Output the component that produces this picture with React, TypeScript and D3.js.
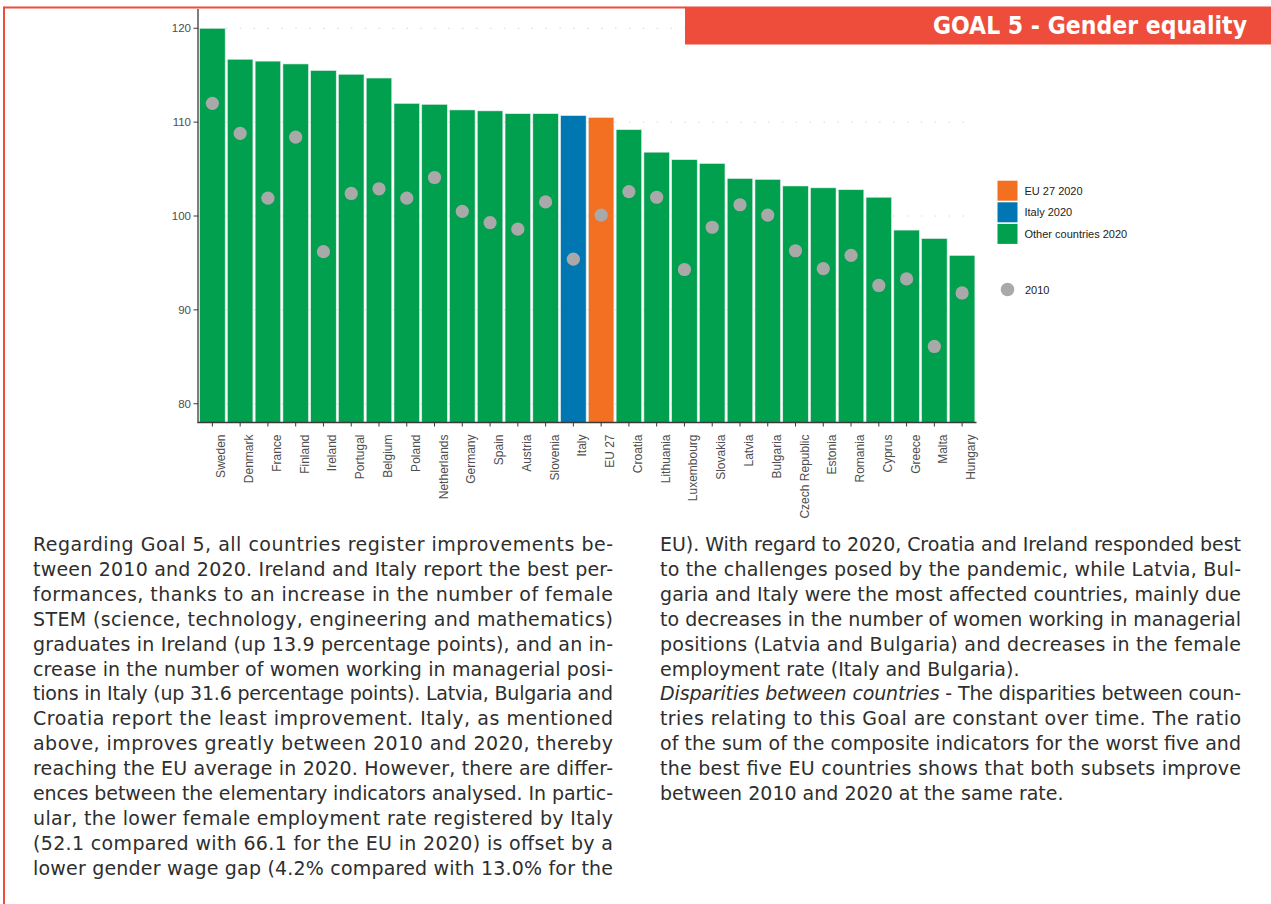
import React from "react";
import * as d3 from "d3";

// Composite index of Goal 5 (Gender equality), 2020 bars and 2010 dots
const countries = [
  "Sweden", "Denmark", "France", "Finland", "Ireland", "Portugal", "Belgium",
  "Poland", "Netherlands", "Germany", "Spain", "Austria", "Slovenia", "Italy",
  "EU 27", "Croatia", "Lithuania", "Luxembourg", "Slovakia", "Latvia",
  "Bulgaria", "Czech Republic", "Estonia", "Romania", "Cyprus", "Greece",
  "Malta", "Hungary",
];

const values2020 = [
  120.0, 116.7, 116.5, 116.2, 115.5, 115.1, 114.7, 112.0, 111.9, 111.3, 111.2,
  110.9, 110.9, 110.7, 110.5, 109.2, 106.8, 106.0, 105.6, 104.0, 103.9, 103.2,
  103.0, 102.8, 102.0, 98.5, 97.6, 95.8,
];

const values2010 = [
  112.0, 108.8, 101.9, 108.4, 96.2, 102.4, 102.9, 101.9, 104.1, 100.5, 99.3,
  98.6, 101.5, 95.4, 100.1, 102.6, 102.0, 94.3, 98.8, 101.2, 100.1, 96.3, 94.4,
  95.8, 92.6, 93.3, 86.1, 91.8,
];

const yTicks = [80, 90, 100, 110, 120];

const legendLabels = ["EU 27 2020", "Italy 2020", "Other countries 2020"];
const legendDotLabel = "2010";
const headerTitle = "GOAL 5 - Gender equality";

const leftLines = [
  "Regarding Goal 5, all countries register improvements be-",
  "tween 2010 and 2020. Ireland and Italy report the best per-",
  "formances, thanks to an increase in the number of female",
  "STEM (science, technology, engineering and mathematics)",
  "graduates in Ireland (up 13.9 percentage points), and an in-",
  "crease in the number of women working in managerial posi-",
  "tions in Italy (up 31.6 percentage points). Latvia, Bulgaria and",
  "Croatia report the least improvement. Italy, as mentioned",
  "above, improves greatly between 2010 and 2020, thereby",
  "reaching the EU average in 2020. However, there are differ-",
  "ences between the elementary indicators analysed. In partic-",
  "ular, the lower female employment rate registered by Italy",
  "(52.1 compared with 66.1 for the EU in 2020) is offset by a",
  "lower gender wage gap (4.2% compared with 13.0% for the",
];

// [italic lead-in, regular text, justified]
const rightLines: [string, string, boolean][] = [
  ["", "EU). With regard to 2020, Croatia and Ireland responded best", true],
  ["", "to the challenges posed by the pandemic, while Latvia, Bul-", true],
  ["", "garia and Italy were the most affected countries, mainly due", true],
  ["", "to decreases in the number of women working in managerial", true],
  ["", "positions (Latvia and Bulgaria) and decreases in the female", true],
  ["", "employment rate (Italy and Bulgaria).", false],
  ["Disparities between countries", " - The disparities between coun-", true],
  ["", "tries relating to this Goal are constant over time. The ratio", true],
  ["", "of the sum of the composite indicators for the worst five and", true],
  ["", "the best five EU countries shows that both subsets improve", true],
  ["", "between 2010 and 2020 at the same rate.", false],
];

const GREEN = "#00A04E";
const BLUE = "#0077B2";
const ORANGE = "#F37022";
const DOT = "#A9A9A9";
const RED = "#EE4D3B";
const AXIS_TEXT = "#4d4d4d";
const BODY = "#2e2e2e";

const barColor = (name: string) =>
  name === "Italy" ? BLUE : name === "EU 27" ? ORANGE : GREEN;

export default function App() {
  const x = d3
    .scaleBand<string>()
    .domain(countries)
    .range([198.5, 976])
    .paddingInner(0.08)
    .paddingOuter(0.04);
  const y = d3.scaleLinear().domain([78, 122]).range([422.5, 9.5]);
  const y0 = y(78);
  const bw = x.bandwidth();

  const legendColors = [ORANGE, BLUE, GREEN];
  const bodyFont = "'DejaVu Sans', sans-serif";
  const lineH = 24.9;
  const firstBase = 551;

  return (
    <svg
      width={1271}
      height={904}
      style={{ position: "absolute", left: 0, top: 0, background: "#fff" }}
      fontFamily="'Liberation Sans', Arial, sans-serif"
    >
      {/* grid */}
      {yTicks.map((t) => (
        <line
          key={`g${t}`}
          x1={198}
          x2={976}
          y1={y(t)}
          y2={y(t)}
          stroke="#d6d6d6"
          strokeWidth={1}
          strokeDasharray="1.5 12.4"
        />
      ))}

      {/* 2020 bars */}
      {countries.map((c, i) => (
        <rect
          key={`b${c}`}
          x={x(c)}
          y={y(values2020[i])}
          width={bw}
          height={y0 - y(values2020[i])}
          fill={barColor(c)}
          stroke="#e3eeea"
          strokeWidth={0.6}
        />
      ))}

      {/* 2010 dots */}
      {countries.map((c, i) => (
        <circle
          key={`d${c}`}
          cx={(x(c) as number) + bw / 2}
          cy={y(values2010[i])}
          r={6.6}
          fill={DOT}
        />
      ))}

      {/* axes */}
      <line x1={198} x2={198} y1={9} y2={y0} stroke="#3a3a3a" strokeWidth={1.3} />
      <line x1={197.4} x2={976.5} y1={y0} y2={y0} stroke="#3a3a3a" strokeWidth={1.3} />
      {yTicks.map((t) => (
        <g key={`yt${t}`}>
          <line x1={193.5} x2={198} y1={y(t)} y2={y(t)} stroke="#3a3a3a" strokeWidth={1} />
          <text x={191} y={y(t) + 4} textAnchor="end" fontSize={11.5} fill={AXIS_TEXT}>
            {t}
          </text>
        </g>
      ))}
      {countries.map((c) => {
        const cx = (x(c) as number) + bw / 2;
        return (
          <g key={`xt${c}`}>
            <line x1={cx} x2={cx} y1={y0} y2={y0 + 4} stroke="#3a3a3a" strokeWidth={1} />
            <text
              transform={`translate(${cx + 13},${y0 + 12}) rotate(-90)`}
              textAnchor="end"
              fontSize={12}
              fill={AXIS_TEXT}
            >
              {c}
            </text>
          </g>
        );
      })}

      {/* legend */}
      {legendLabels.map((l, i) => (
        <g key={`l${l}`} transform={`translate(997.5,${180.7 + i * 21.6})`}>
          <rect width={20} height={20} fill={legendColors[i]} />
          <text x={27} y={14} fontSize={11} fill="#222">
            {l}
          </text>
        </g>
      ))}
      <circle cx={1007.5} cy={289.5} r={6.8} fill={DOT} />
      <text x={1025} y={293.5} fontSize={11} fill="#222">
        {legendDotLabel}
      </text>

      {/* page frame and header band */}
      <line x1={4} y1={7.5} x2={686} y2={7.5} stroke={RED} strokeWidth={2} />
      <line x1={4} y1={6.5} x2={4} y2={904} stroke={RED} strokeWidth={2} />
      <rect x={685} y={6.5} width={586} height={38} fill={RED} />
      <text
        x={1247}
        y={33.5}
        textAnchor="end"
        fill="#fff"
        fontFamily="'DejaVu Sans Condensed', 'DejaVu Sans', sans-serif"
        fontWeight="bold"
        fontSize={24.5}
      >
        {headerTitle}
      </text>

      {/* body text */}
      <g fontFamily={bodyFont} fontSize={19} fill={BODY}>
        {leftLines.map((l, i) => (
          <text key={`tl${i}`} x={33} y={firstBase + i * lineH} textLength={580} lengthAdjust="spacing">
            {l}
          </text>
        ))}
        {rightLines.map(([it, rest, just], i) => (
          <text
            key={`tr${i}`}
            x={660}
            y={firstBase + i * lineH}
            textLength={just ? 581 : undefined}
            lengthAdjust="spacing"
          >
            {it ? <tspan fontStyle="italic">{it}</tspan> : null}
            <tspan>{rest}</tspan>
          </text>
        ))}
      </g>
    </svg>
  );
}
